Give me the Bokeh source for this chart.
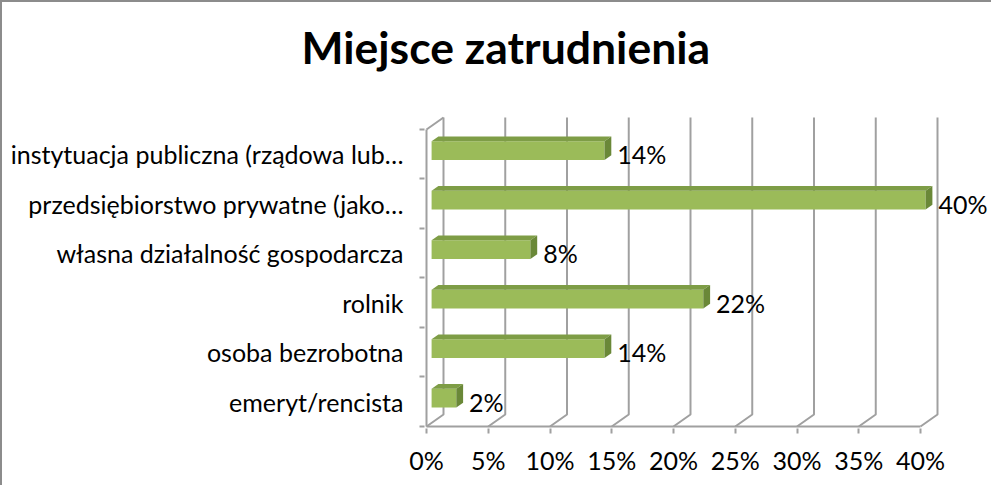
from bokeh.plotting import figure
from bokeh.models import Range1d, FixedTicker
from bokeh.layouts import column
from bokeh.core.properties import value
from bokeh.embed import file_html
from bokeh.resources import INLINE

# ---- data (bottom to top) ----
categories = [
    "emeryt/rencista",
    "osoba bezrobotna",
    "rolnik",
    "własna działalność gospodarcza",
    "przedsiębiorstwo prywatne (jako…",
    "instytuacja publiczna (rządowa lub…",
]
values = [2, 14, 22, 8, 40, 14]
value_labels = ["2%", "14%", "22%", "8%", "40%", "14%"]
x_ticks = [0, 5, 10, 15, 20, 25, 30, 35, 40]
x_tick_labels = ["0%", "5%", "10%", "15%", "20%", "25%", "30%", "35%", "40%"]
title_text = "Miejsce zatrudnienia"

# ---- 3D geometry (in data units) ----
SX = 12.35            # px per percent
SY = 49.5             # px per category
DX = 17 / SX          # depth offset along x (percent units)
DY = 12 / SY          # depth offset along y (category units)
T0, T1 = 0.3, 0.7     # bar depth from/to
H = 0.19              # half bar height
FONT = "Lato"
GRID = "#a0a0a0"
W = 989
TITLE_H = 100

n = len(categories)

# ---- title strip (title in its own above panel) ----
tf = figure(width=W, height=TITLE_H, x_range=Range1d(0, 1), y_range=Range1d(0, 1),
            x_axis_type=None, y_axis_type=None, output_backend="svg", toolbar_location=None,
            min_border_left=422, min_border_right=0, min_border_top=0, min_border_bottom=0)
tf.outline_line_color = None
tf.xgrid.visible = False
tf.ygrid.visible = False
tf.title.text = title_text
tf.title.text_font = FONT
tf.title.text_font_size = "44.5px"
tf.title.text_font_style = "bold"
tf.title.text_color = "black"
tf.title.align = "left"
tf.title.offset = -123
tf.title.standoff = 30

# ---- main chart ----
p = figure(
    width=W, height=483 - TITLE_H,
    x_range=Range1d(-2 / SX, -2 / SX + 567 / SX),
    y_range=Range1d(-2 / SY, 6.303),
    output_backend="svg", toolbar_location=None,
    min_border_left=422, min_border_right=0, min_border_top=112 - TITLE_H, min_border_bottom=57,
)
p.outline_line_color = None
p.xgrid.visible = False
p.ygrid.visible = False
p.background_fill_color = "white"
p.border_fill_color = "white"

# x axis
xa = p.xaxis[0]
xa.ticker = FixedTicker(ticks=x_ticks)
xa.major_label_overrides = {t: l for t, l in zip(x_ticks, x_tick_labels)}
xa.axis_line_color = None
xa.major_tick_line_color = GRID
xa.major_tick_line_width = 2
xa.major_tick_out = 5
xa.major_tick_in = 0
xa.minor_tick_line_color = None
xa.major_label_text_font = FONT
xa.major_label_text_font_size = "25px"
xa.major_label_text_color = "black"
xa.major_label_standoff = 11

# y axis
ya = p.yaxis[0]
centers = [i + 0.5 for i in range(n)]
ya.ticker = FixedTicker(ticks=centers, minor_ticks=list(range(n + 1)))
ya.major_label_overrides = {c: lab for c, lab in zip(centers, categories)}
ya.axis_line_color = None
ya.major_tick_line_color = None
ya.major_tick_out = 0
ya.major_tick_in = 0
ya.minor_tick_line_color = GRID
ya.minor_tick_line_width = 2
ya.minor_tick_out = 5
ya.minor_tick_in = 0
ya.major_label_text_font = FONT
ya.major_label_text_font_size = "25px"
ya.major_label_text_color = "black"
ya.major_label_standoff = 16

# walls / gridlines
gx, gy = [], []
for t in x_ticks:
    gx.append([t, t + DX, t + DX]); gy.append([0, DY, n + DY])
gx.append([0, DX]); gy.append([n, n + DY])
p.multi_line(gx, gy, line_color=GRID, line_width=2)
# front axis lines
p.multi_line([[0, 0], [0, x_ticks[-1]]], [[n, 0], [0, 0]], line_color=GRID, line_width=2)

# bars
fx_l, fx_r, fy_b, fy_t = [], [], [], []
top_xs, top_ys, side_xs, side_ys = [], [], [], []
for c, v in zip(centers, values):
    x0 = T0 * DX; x1 = T1 * DX
    y0 = T0 * DY; y1 = T1 * DY
    fx_l.append(x0); fx_r.append(v + x0)
    fy_b.append(c - H + y0); fy_t.append(c + H + y0)
    top_xs.append([x0, v + x0, v + x1, x1])
    top_ys.append([c + H + y0, c + H + y0, c + H + y1, c + H + y1])
    side_xs.append([v + x0, v + x0, v + x1, v + x1])
    side_ys.append([c - H + y0, c + H + y0, c + H + y1, c - H + y1])
p.quad(left=fx_l, right=fx_r, bottom=fy_b, top=fy_t, fill_color="#9BBB59", line_color=None)
p.patches(top_xs, top_ys, fill_color="#7E9D46", line_color=None)
p.patches(side_xs, side_ys, fill_color="#6A8838", line_color=None)

# data labels
p.text(x=[v + T1 * DX + 6 / SX for v in values], y=centers, text=value_labels,
       text_font=value(FONT), text_font_size="25px", text_color="black",
       text_align="left", text_baseline="middle")

layout = column(tf, p, spacing=0)
layout.styles = {"border-left": "2px solid #8c8c8c", "border-top": "2px solid #8c8c8c"}
open("out.html", "w").write(file_html(layout, INLINE))
